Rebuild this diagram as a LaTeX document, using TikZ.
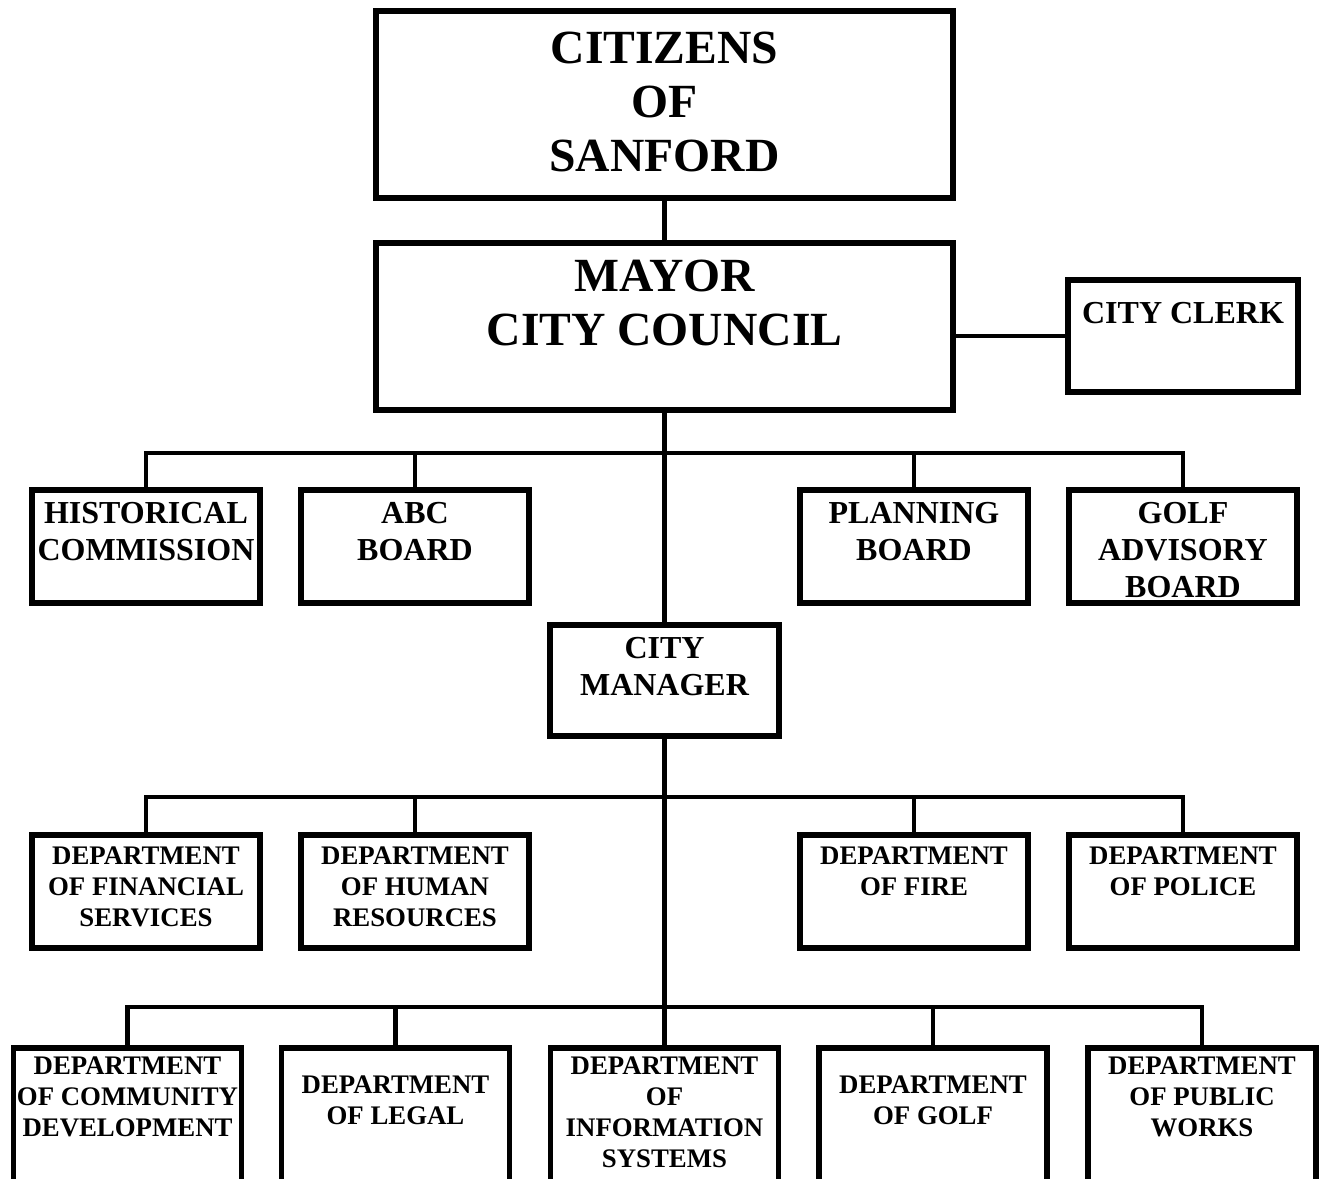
\documentclass[tikz,border=0pt]{standalone}
\usepackage{fontspec}
\setmainfont{Liberation Serif}
\usetikzlibrary{positioning}
\begin{document}
\begin{tikzpicture}[x=1pt,y=-1pt,
  box/.style={draw, line width=5.5pt, outer sep=0pt, inner sep=0pt},
  bigtxt/.style={inner sep=0pt, align=center, font=\bfseries\fontsize{47.6}{54}\selectfont},
  midtxt/.style={inner sep=0pt, align=center, font=\bfseries\fontsize{32}{37}\selectfont},
  smalltxt/.style={inner sep=0pt, align=center, font=\bfseries\fontsize{26.8}{30.7}\selectfont},
  link/.style={line width=4.5pt}]
\useasboundingbox (0,0) rectangle (1319,1178);
\clip (0,0) rectangle (1319,1178);

% top
\node[box, minimum width=577pt, minimum height=187pt] (cit) at (664.5,104.5) {};
\node[bigtxt] (cit-t) at (664.5,102) {CITIZENS\\OF\\SANFORD};
\node[box, minimum width=577pt, minimum height=167pt] (mayor) at (664.5,326.5) {};
\node[bigtxt, below=17pt of mayor.north] (mayor-t) {MAYOR\\CITY COUNCIL};
\node[box, minimum width=230pt, minimum height=112pt] (clerk) at (1183,336) {};
\node[midtxt, below=22.6pt of clerk.north] (clerk-t) {CITY CLERK};

% boards
\node[box, minimum width=228pt, minimum height=113pt] (hist) at (146,546.5) {};
\node[box, minimum width=228pt, minimum height=113pt] (abc) at (415,546.5) {};
\node[box, minimum width=228pt, minimum height=113pt] (plan) at (914,546.5) {};
\node[box, minimum width=228pt, minimum height=113pt] (golfadv) at (1183,546.5) {};
\node[midtxt, below=12.6pt of hist.north] (hist-t) {HISTORICAL\\COMMISSION};
\node[midtxt, below=12.6pt of abc.north] (abc-t) {ABC\\BOARD};
\node[midtxt, below=12.6pt of plan.north] (plan-t) {PLANNING\\BOARD};
\node[midtxt, below=12.6pt of golfadv.north] (golfadv-t) {GOLF\\ADVISORY\\BOARD};

% manager
\node[box, minimum width=229pt, minimum height=111pt] (mgr) at (664.5,680.5) {};
\node[midtxt, below=12.6pt of mgr.north] (mgr-t) {CITY\\MANAGER};

% departments
\node[box, minimum width=228pt, minimum height=113pt] (fin) at (146,891.5) {};
\node[box, minimum width=228pt, minimum height=113pt] (hr) at (415,891.5) {};
\node[box, minimum width=228pt, minimum height=113pt] (fire) at (914,891.5) {};
\node[box, minimum width=228pt, minimum height=113pt] (police) at (1183,891.5) {};
\node[smalltxt, below=12pt of fin.north] (fin-t) {DEPARTMENT\\OF FINANCIAL\\SERVICES};
\node[smalltxt, below=12pt of hr.north] (hr-t) {DEPARTMENT\\OF HUMAN\\RESOURCES};
\node[smalltxt, below=12pt of fire.north] (fire-t) {DEPARTMENT\\OF FIRE};
\node[smalltxt, below=12pt of police.north] (police-t) {DEPARTMENT\\OF POLICE};

% bottom row
\node[box, minimum width=228pt, minimum height=170pt] (comm) at (127.5,1133) {};
\node[box, minimum width=228pt, minimum height=170pt] (legal) at (395.5,1133) {};
\node[box, minimum width=228pt, minimum height=170pt] (info) at (664.5,1133) {};
\node[box, minimum width=228pt, minimum height=170pt] (golf) at (933,1133) {};
\node[box, minimum width=228pt, minimum height=170pt] (pw) at (1202,1133) {};
\node[smalltxt, below=9pt of comm.north] (comm-t) {DEPARTMENT\\OF COMMUNITY\\DEVELOPMENT};
\node[smalltxt, below=28pt of legal.north] (legal-t) {DEPARTMENT\\OF LEGAL};
\node[smalltxt, below=9pt of info.north] (info-t) {DEPARTMENT\\OF\\INFORMATION\\SYSTEMS};
\node[smalltxt, below=28pt of golf.north] (golf-t) {DEPARTMENT\\OF GOLF};
\node[smalltxt, below=9pt of pw.north] (pw-t) {DEPARTMENT\\OF PUBLIC\\WORKS};

% connectors
\coordinate (bus1) at (664.5,453);
\coordinate (bus2) at (664.5,797);
\coordinate (bus3) at (664.5,1007);
\draw[link] (cit.south) -- (mayor.north);
\draw[link] (clerk.west) -- (clerk.west -| mayor.east);
\draw[link] (mayor.south) -- (mgr.north);
\draw[link] (hist.north) |- (bus1) -| (golfadv.north); % board bus
\draw[link] (abc.north) -- (abc.north |- bus1);
\draw[link] (plan.north) -- (plan.north |- bus1);
\draw[link] (mgr.south) -- (info.north);
\draw[link] (fin.north) |- (bus2) -| (police.north); % dept bus
\draw[link] (hr.north) -- (hr.north |- bus2);
\draw[link] (fire.north) -- (fire.north |- bus2);
\draw[link] (comm.north) |- (bus3) -| (pw.north); % lower bus
\draw[link] (legal.north) -- (legal.north |- bus3);
\draw[link] (golf.north) -- (golf.north |- bus3);
\end{tikzpicture}
\end{document}
